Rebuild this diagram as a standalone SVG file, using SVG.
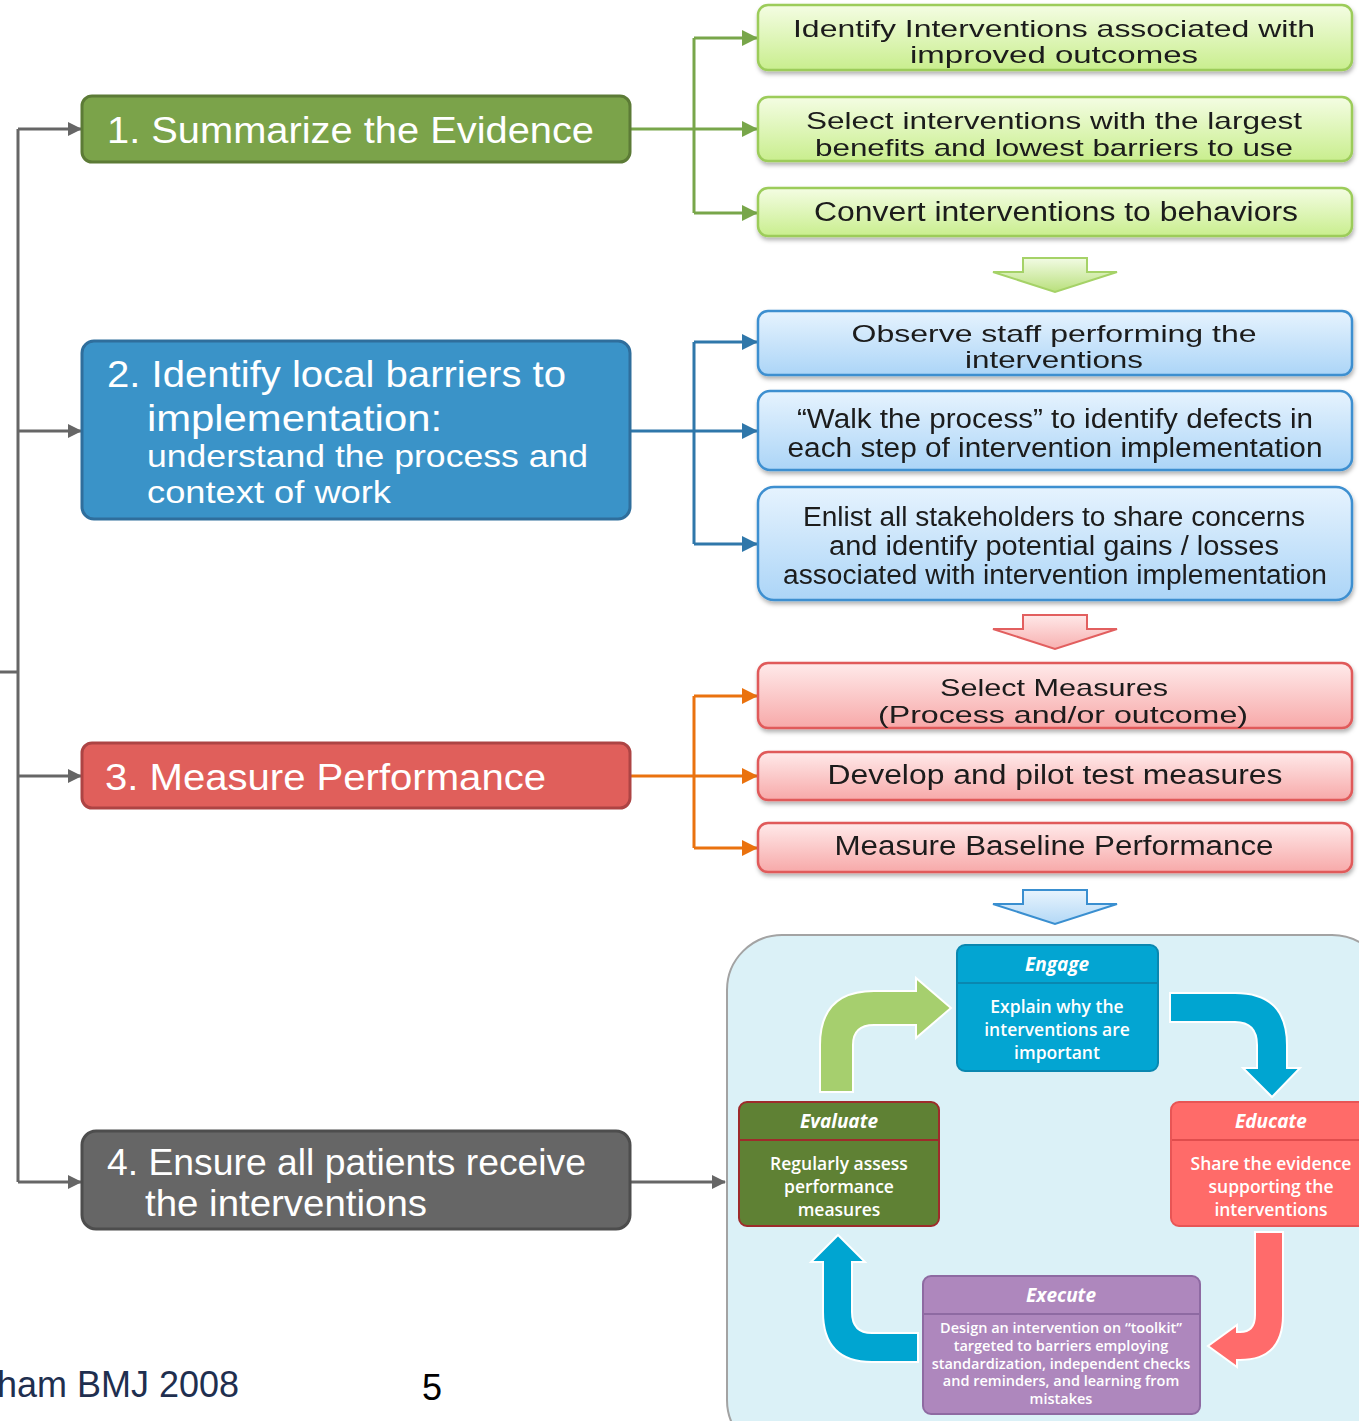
<svg xmlns="http://www.w3.org/2000/svg" width="1359" height="1421" viewBox="0 0 1359 1421">
<style>
.main{font-family:"Liberation Sans","DejaVu Sans",sans-serif;font-size:37px;fill:#ffffff}
.sub{font-family:"Liberation Sans","DejaVu Sans",sans-serif;font-size:32px;fill:#ffffff}
.rt{font-family:"Liberation Sans","DejaVu Sans",sans-serif;font-size:27px;fill:#1a1a1a;text-anchor:middle}
.rt2{font-family:"Liberation Sans","DejaVu Sans",sans-serif;font-size:24px;fill:#1a1a1a;text-anchor:middle}
.ch{font-family:"Open Sans","Liberation Sans",sans-serif;font-size:19px;font-weight:bold;font-style:italic;fill:#ffffff;text-anchor:middle}
.cb{font-family:"Open Sans","Liberation Sans",sans-serif;font-size:17.5px;font-weight:600;fill:#ffffff;text-anchor:middle}
.cs{font-family:"Open Sans","Liberation Sans",sans-serif;font-size:14.5px;font-weight:600;fill:#ffffff;text-anchor:middle}
.gbox{fill:url(#gG);stroke:#9ccc5a;stroke-width:2.5}
.bbox{fill:url(#gB);stroke:#3d8fd0;stroke-width:2.5}
.rbox{fill:url(#gR);stroke:#e05a5a;stroke-width:2.5}
.conn{fill:none;stroke-width:3}
</style>
<defs>
<linearGradient id="gG" x1="0" y1="0" x2="0" y2="1"><stop offset="0" stop-color="#f4fde3"/><stop offset="1" stop-color="#c9ee8e"/></linearGradient>
<linearGradient id="gB" x1="0" y1="0" x2="0" y2="1"><stop offset="0" stop-color="#e6f3fe"/><stop offset="1" stop-color="#acd5f7"/></linearGradient>
<linearGradient id="gR" x1="0" y1="0" x2="0" y2="1"><stop offset="0" stop-color="#ffeaea"/><stop offset="1" stop-color="#f7a9a9"/></linearGradient>
<linearGradient id="gGa" x1="0" y1="0" x2="0" y2="1"><stop offset="0" stop-color="#f2fbe4"/><stop offset="1" stop-color="#b9e07c"/></linearGradient>
<linearGradient id="gRa" x1="0" y1="0" x2="0" y2="1"><stop offset="0" stop-color="#ffe8e8"/><stop offset="1" stop-color="#f7b0b0"/></linearGradient>
<linearGradient id="gBa" x1="0" y1="0" x2="0" y2="1"><stop offset="0" stop-color="#e8f4fd"/><stop offset="1" stop-color="#b3d8f6"/></linearGradient>
<filter id="sh" x="-5%" y="-20%" width="110%" height="150%"><feDropShadow dx="1" dy="3" stdDeviation="2" flood-color="#000" flood-opacity="0.3"/></filter>
<marker id="aGray" markerUnits="userSpaceOnUse" markerWidth="14" markerHeight="14" refX="13" refY="7" orient="auto"><path d="M0 0 L14 7 L0 14 Z" fill="#666666"/></marker>
<marker id="aGreen" markerUnits="userSpaceOnUse" markerWidth="16" markerHeight="16" refX="15" refY="8" orient="auto"><path d="M0 0 L16 8 L0 16 Z" fill="#78a64a"/></marker>
<marker id="aBlue" markerUnits="userSpaceOnUse" markerWidth="16" markerHeight="16" refX="15" refY="8" orient="auto"><path d="M0 0 L16 8 L0 16 Z" fill="#2f77aa"/></marker>
<marker id="aOrange" markerUnits="userSpaceOnUse" markerWidth="16" markerHeight="16" refX="15" refY="8" orient="auto"><path d="M0 0 L16 8 L0 16 Z" fill="#ea720e"/></marker>
</defs>

<g id="connectors">
  <path class="conn" stroke="#666666" d="M0 672 H18 M18 129 V1182"/>
  <path class="conn" stroke="#666666" marker-end="url(#aGray)" d="M18 129 H81"/>
  <path class="conn" stroke="#666666" marker-end="url(#aGray)" d="M18 431 H81"/>
  <path class="conn" stroke="#666666" marker-end="url(#aGray)" d="M18 776 H81"/>
  <path class="conn" stroke="#666666" marker-end="url(#aGray)" d="M18 1182 H81"/>
  <path class="conn" stroke="#666666" marker-end="url(#aGray)" d="M630 1182 H725"/>
  <path class="conn" stroke="#78a64a" d="M630 129 H694 M694 38 V213"/>
  <path class="conn" stroke="#78a64a" marker-end="url(#aGreen)" d="M694 38 H757"/>
  <path class="conn" stroke="#78a64a" marker-end="url(#aGreen)" d="M694 129 H757"/>
  <path class="conn" stroke="#78a64a" marker-end="url(#aGreen)" d="M694 213 H757"/>
  <path class="conn" stroke="#2f77aa" d="M630 431 H694 M694 342 V544"/>
  <path class="conn" stroke="#2f77aa" marker-end="url(#aBlue)" d="M694 342 H757"/>
  <path class="conn" stroke="#2f77aa" marker-end="url(#aBlue)" d="M694 431 H757"/>
  <path class="conn" stroke="#2f77aa" marker-end="url(#aBlue)" d="M694 544 H757"/>
  <path class="conn" stroke="#ea720e" d="M630 776 H694 M694 696 V848"/>
  <path class="conn" stroke="#ea720e" marker-end="url(#aOrange)" d="M694 696 H757"/>
  <path class="conn" stroke="#ea720e" marker-end="url(#aOrange)" d="M694 776 H757"/>
  <path class="conn" stroke="#ea720e" marker-end="url(#aOrange)" d="M694 848 H757"/>
  <path d="M1023 258 H1087 V272 H1117 L1055 292 L993 272 H1023 Z" fill="url(#gGa)" stroke="#a5d267" stroke-width="2"/>
  <path d="M1023 615 H1087 V629 H1117 L1055 649 L993 629 H1023 Z" fill="url(#gRa)" stroke="#e25f5f" stroke-width="2"/>
  <path d="M1023 890 H1087 V904 H1117 L1055 924 L993 904 H1023 Z" fill="url(#gBa)" stroke="#3a8fd0" stroke-width="2"/>
</g>

<g id="step1">
  <rect x="82" y="96" width="548" height="66" rx="10" fill="#7ba34a" stroke="#5c7b36" stroke-width="3"/>
  <text class="main" x="107" y="143" textLength="487" lengthAdjust="spacingAndGlyphs">1. Summarize the Evidence</text>
</g>
<g id="step2">
  <rect x="82" y="341" width="548" height="178" rx="12" fill="#3a93c8" stroke="#2f6e9c" stroke-width="3"/>
  <text class="main" x="107" y="387" textLength="459" lengthAdjust="spacingAndGlyphs">2. Identify local barriers to</text>
  <text class="main" x="147" y="431" textLength="295" lengthAdjust="spacingAndGlyphs">implementation:</text>
  <text class="sub" x="147" y="467" textLength="441" lengthAdjust="spacingAndGlyphs">understand the process and</text>
  <text class="sub" x="147" y="503" textLength="244" lengthAdjust="spacingAndGlyphs">context of work</text>
</g>
<g id="step3">
  <rect x="82" y="743" width="548" height="65" rx="10" fill="#e05f5b" stroke="#ad4444" stroke-width="3"/>
  <text class="main" x="105" y="790" textLength="441" lengthAdjust="spacingAndGlyphs">3. Measure Performance</text>
</g>
<g id="step4">
  <rect x="82" y="1131" width="548" height="98" rx="14" fill="#666666" stroke="#4d4d4d" stroke-width="3"/>
  <text class="main" x="107" y="1175" textLength="479" lengthAdjust="spacingAndGlyphs">4. Ensure all patients receive</text>
  <text class="main" x="145" y="1216" textLength="282" lengthAdjust="spacingAndGlyphs">the interventions</text>
</g>

<g id="g1" filter="url(#sh)">
  <rect class="gbox" x="758" y="5" width="594" height="65" rx="10"/>
  <text class="rt2" x="1054" y="37" textLength="522" lengthAdjust="spacingAndGlyphs">Identify Interventions associated with</text>
  <text class="rt2" x="1054" y="63" textLength="288" lengthAdjust="spacingAndGlyphs">improved outcomes</text>
</g>
<g id="g2" filter="url(#sh)">
  <rect class="gbox" x="758" y="97" width="594" height="64" rx="10"/>
  <text class="rt2" x="1054" y="129" textLength="496" lengthAdjust="spacingAndGlyphs">Select interventions with the largest</text>
  <text class="rt2" x="1054" y="156" textLength="478" lengthAdjust="spacingAndGlyphs">benefits and lowest barriers to use</text>
</g>
<g id="g3" filter="url(#sh)">
  <rect class="gbox" x="758" y="188" width="594" height="48" rx="10"/>
  <text class="rt" x="1056" y="221" textLength="484" lengthAdjust="spacingAndGlyphs">Convert interventions to behaviors</text>
</g>

<g id="b1" filter="url(#sh)">
  <rect class="bbox" x="758" y="311" width="594" height="64" rx="10"/>
  <text class="rt2" x="1054" y="342" textLength="405" lengthAdjust="spacingAndGlyphs">Observe staff performing the</text>
  <text class="rt2" x="1054" y="368" textLength="178" lengthAdjust="spacingAndGlyphs">interventions</text>
</g>
<g id="b2" filter="url(#sh)">
  <rect class="bbox" x="758" y="391" width="594" height="79" rx="12"/>
  <text class="rt" x="1055" y="428" textLength="516" lengthAdjust="spacingAndGlyphs">“Walk the process” to identify defects in</text>
  <text class="rt" x="1055" y="457" textLength="535" lengthAdjust="spacingAndGlyphs">each step of intervention implementation</text>
</g>
<g id="b3" filter="url(#sh)">
  <rect class="bbox" x="758" y="487" width="594" height="113" rx="16"/>
  <text class="rt" x="1054" y="526" textLength="502" lengthAdjust="spacingAndGlyphs">Enlist all stakeholders to share concerns</text>
  <text class="rt" x="1054" y="555" textLength="450" lengthAdjust="spacingAndGlyphs">and identify potential gains / losses</text>
  <text class="rt" x="1055" y="584" textLength="544" lengthAdjust="spacingAndGlyphs">associated with intervention implementation</text>
</g>

<g id="r1" filter="url(#sh)">
  <rect class="rbox" x="758" y="663" width="594" height="65" rx="10"/>
  <text class="rt2" x="1054" y="696" textLength="228" lengthAdjust="spacingAndGlyphs">Select Measures</text>
  <text class="rt2" x="1063" y="723" textLength="370" lengthAdjust="spacingAndGlyphs">(Process and/or outcome)</text>
</g>
<g id="r2" filter="url(#sh)">
  <rect class="rbox" x="758" y="752" width="594" height="48" rx="10"/>
  <text class="rt" x="1055" y="784" textLength="455" lengthAdjust="spacingAndGlyphs">Develop and pilot test measures</text>
</g>
<g id="r3" filter="url(#sh)">
  <rect class="rbox" x="758" y="823" width="594" height="49" rx="10"/>
  <text class="rt" x="1054" y="855" textLength="439" lengthAdjust="spacingAndGlyphs">Measure Baseline Performance</text>
</g>

<g id="cycle">
  <rect x="727" y="935" width="660" height="520" rx="55" fill="#dbf1f7" stroke="#a3a3a3" stroke-width="2"/>
  <path d="M820 1092 L820 1045 Q820 991 874 991 L916 991 L916 978 L951 1008 L916 1038 L916 1025 L874 1025 Q853 1025 853 1045 L853 1092 Z" fill="#a6cf6e" stroke="#ffffff" stroke-width="2"/>
  <path d="M1170 993 L1235 993 Q1287 993 1287 1045 L1287 1068 L1300 1068 L1272 1097 L1243 1068 L1257 1068 L1257 1045 Q1257 1022 1235 1022 L1170 1022 Z" fill="#00a5d1" stroke="#ffffff" stroke-width="2"/>
  <path d="M1255 1232 L1283 1232 L1283 1315 Q1283 1360 1240 1360 L1237 1360 L1237 1367 L1208 1346 L1237 1325 L1237 1332 L1240 1332 Q1255 1332 1255 1315 Z" fill="#ff6b6b" stroke="#ffffff" stroke-width="2"/>
  <path d="M918 1333 L872 1333 Q852 1333 852 1312 L852 1262 L865 1262 L838 1235 L811 1262 L823 1262 L823 1312 Q823 1362 872 1362 L918 1362 Z" fill="#00a5d1" stroke="#ffffff" stroke-width="2"/>
</g>

<g id="engage">
  <rect x="957" y="945" width="201" height="126" rx="8" fill="#03a5d2" stroke="#0a87b0" stroke-width="2"/>
  <line x1="958" y1="983" x2="1157" y2="983" stroke="#0a87b0" stroke-width="2"/>
  <text class="ch" x="1057" y="971">Engage</text>
  <text class="cb" x="1057" y="1013">Explain why the</text>
  <text class="cb" x="1057" y="1036">interventions are</text>
  <text class="cb" x="1057" y="1059">important</text>
</g>
<g id="evaluate">
  <rect x="739" y="1102" width="200" height="124" rx="8" fill="#5f8134" stroke="#9e2b2b" stroke-width="2"/>
  <line x1="740" y1="1140" x2="938" y2="1140" stroke="#9e2b2b" stroke-width="2"/>
  <text class="ch" x="839" y="1128">Evaluate</text>
  <text class="cb" x="839" y="1170">Regularly assess</text>
  <text class="cb" x="839" y="1193">performance</text>
  <text class="cb" x="839" y="1216">measures</text>
</g>
<g id="educate">
  <rect x="1171" y="1102" width="210" height="124" rx="8" fill="#ff6b69" stroke="#e85555" stroke-width="2"/>
  <line x1="1172" y1="1140" x2="1380" y2="1140" stroke="#e04d4d" stroke-width="2"/>
  <text class="ch" x="1271" y="1128">Educate</text>
  <text class="cb" x="1271" y="1170">Share the evidence</text>
  <text class="cb" x="1271" y="1193">supporting the</text>
  <text class="cb" x="1271" y="1216">interventions</text>
</g>
<g id="execute">
  <rect x="923" y="1276" width="277" height="138" rx="8" fill="#ae87bd" stroke="#8e6aa2" stroke-width="2"/>
  <line x1="924" y1="1314" x2="1199" y2="1314" stroke="#8e6aa2" stroke-width="2"/>
  <text class="ch" x="1061" y="1302">Execute</text>
  <text class="cs" x="1061" y="1333">Design an intervention on “toolkit”</text>
  <text class="cs" x="1061" y="1351">targeted to barriers employing</text>
  <text class="cs" x="1061" y="1369">standardization, independent checks</text>
  <text class="cs" x="1061" y="1386">and reminders, and learning from</text>
  <text class="cs" x="1061" y="1404">mistakes</text>
</g>

<g id="footer">
  <text x="-3" y="1397" font-family="Liberation Sans, Arial, sans-serif" font-size="36" fill="#1f2f4f">ham BMJ 2008</text>
  <text x="422" y="1400" font-family="Liberation Sans, Arial, sans-serif" font-size="36" fill="#000000">5</text>
</g>
</svg>
